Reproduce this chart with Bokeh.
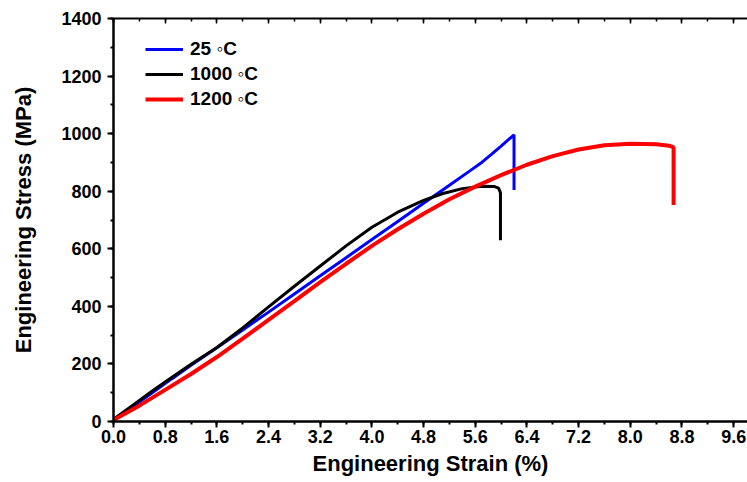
from bokeh.plotting import figure
from bokeh.models import (Range1d, LinearAxis, FixedTicker, PrintfTickFormatter,
                          Legend, LegendItem)
from bokeh.embed import file_html
from bokeh.resources import INLINE

# ---- data ----
strain_25 = [0.0, 0.3, 0.6, 0.9, 1.2, 1.6, 2.0, 2.4, 2.8, 3.2, 3.6, 4.0, 4.4, 4.8, 5.2, 5.5, 5.7, 5.85, 6.0, 6.2, 6.2]
stress_25 = [5, 52, 100, 148, 195, 256, 318, 380, 443, 506, 569, 632, 695, 758, 821, 868, 900, 928, 957, 996, 804]

strain_1000 = [0.0, 0.3, 0.6, 0.9, 1.2, 1.6, 2.0, 2.4, 2.8, 3.2, 3.6, 4.0, 4.4, 4.8, 5.1, 5.4, 5.7, 5.9, 5.96, 5.99, 5.99]
stress_1000 = [8, 57, 106, 153, 199, 257, 325, 398, 470, 540, 610, 675, 727, 768, 792, 809, 817, 816, 811, 795, 630]

strain_1200 = [0.0, 0.4, 0.8, 1.2, 1.6, 2.0, 2.4, 2.8, 3.2, 3.6, 4.0, 4.4, 4.8, 5.2, 5.6, 6.0, 6.4, 6.8, 7.2, 7.6, 8.0, 8.4, 8.6, 8.67, 8.67]
stress_1200 = [5, 55, 110, 165, 224, 288, 353, 418, 484, 548, 610, 668, 722, 772, 816, 856, 892, 922, 945, 960, 965, 963, 958, 952, 752]

series_labels = ["25 \u25e6C", "1000 \u25e6C", "1200 \u25e6C"]
series_colors = ["#0000ff", "#000000", "#ff0000"]

x_ticks = [0.0, 0.8, 1.6, 2.4, 3.2, 4.0, 4.8, 5.6, 6.4, 7.2, 8.0, 8.8, 9.6]
x_minor = [0.4 * i for i in range(0, 26)]
y_ticks = [0, 200, 400, 600, 800, 1000, 1200, 1400]
y_minor = [100 * i for i in range(0, 15)]

FONT = "Liberation Sans"

p = figure(width=747, height=482, output_backend="svg", toolbar_location=None,
           x_range=Range1d(0, 9.814), y_range=Range1d(0, 1400),
           min_border_left=113, min_border_right=0, min_border_top=18,
           min_border_bottom=61, x_axis_location="below")
p.outline_line_color = None
p.grid.visible = False
p.background_fill_color = "white"
p.border_fill_color = "white"

# axes
for ax in [p.xaxis[0], p.yaxis[0]]:
    ax.axis_line_width = 2.5
    ax.axis_line_color = "black"
    ax.major_tick_line_width = 2
    ax.minor_tick_line_width = 2
    ax.major_tick_out = 6
    ax.major_tick_in = 0
    ax.minor_tick_out = 3
    ax.minor_tick_in = 0
    ax.major_label_text_font = FONT
    ax.major_label_text_font_style = "bold"
    ax.major_label_text_font_size = "18px"
    ax.major_label_text_color = "black"
    ax.axis_label_text_font = FONT
    ax.axis_label_text_font_style = "bold"
    ax.axis_label_text_font_size = "22px"
    ax.axis_label_text_color = "black"

p.xaxis[0].ticker = FixedTicker(ticks=x_ticks, minor_ticks=x_minor)
p.xaxis[0].formatter = PrintfTickFormatter(format="%.1f")
p.xaxis[0].axis_label = "Engineering Strain (%)"
p.xaxis[0].major_label_standoff = 2
p.xaxis[0].axis_label_standoff = 5

p.yaxis[0].ticker = FixedTicker(ticks=y_ticks, minor_ticks=y_minor)
p.yaxis[0].axis_label = "Engineering Stress (MPa)"
p.yaxis[0].major_label_standoff = 6
p.yaxis[0].axis_label_standoff = 22

top = LinearAxis(ticker=FixedTicker(ticks=x_ticks, minor_ticks=x_minor),
                 major_label_text_font_size="0px", axis_line_width=2,
                 major_tick_in=5, major_tick_out=0, minor_tick_in=3, minor_tick_out=0,
                 major_tick_line_width=1.5, minor_tick_line_width=1.5)
top.major_label_text_alpha = 0
p.add_layout(top, "above")

r25 = p.line(strain_25, stress_25, line_color=series_colors[0], line_width=3)
r1000 = p.line(strain_1000, stress_1000, line_color=series_colors[1], line_width=3)
r1200 = p.line(strain_1200, stress_1200, line_color=series_colors[2], line_width=4)

legend = Legend(items=[LegendItem(label=series_labels[0], renderers=[r25]),
                       LegendItem(label=series_labels[1], renderers=[r1000]),
                       LegendItem(label=series_labels[2], renderers=[r1200])],
                location=(32, 311), padding=0, margin=0, spacing=3,
                glyph_width=38, glyph_height=20, label_height=20,
                label_standoff=7, border_line_color=None,
                background_fill_alpha=0,
                label_text_font=FONT, label_text_font_style="bold",
                label_text_font_size="19px", label_text_color="black")
p.add_layout(legend, "center")

open("out.html", "w").write(file_html(p, INLINE))
